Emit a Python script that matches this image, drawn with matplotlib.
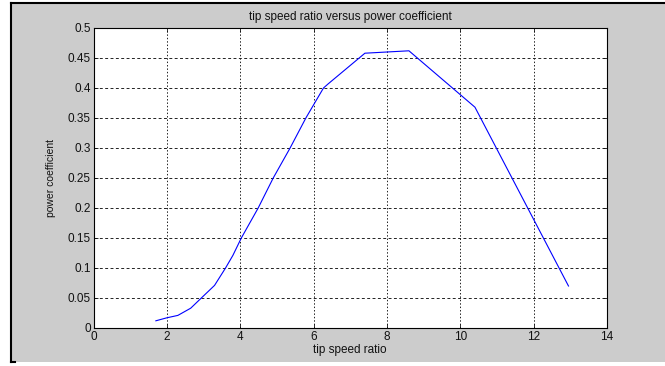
import matplotlib
matplotlib.use("Agg")
import matplotlib.pyplot as plt
from matplotlib.patches import Rectangle
from matplotlib.lines import Line2D

# curve
tsr = [1.7, 2.0, 2.3, 2.65, 2.94, 3.3, 3.6, 3.8, 4.03, 4.49, 4.9, 5.36, 5.79, 6.27, 6.4, 7.4, 8.6, 10.4, 12.95]
cp = [0.012, 0.017, 0.021, 0.033, 0.05, 0.071, 0.1, 0.121, 0.15, 0.2, 0.25, 0.3, 0.35, 0.4, 0.407, 0.458, 0.462, 0.368, 0.07]

xticks = [0, 2, 4, 6, 8, 10, 12, 14]
yticks = [0, 0.05, 0.1, 0.15, 0.2, 0.25, 0.3, 0.35, 0.4, 0.45, 0.5]
ytick_labels = ["0", "0.05", "0.1", "0.15", "0.2", "0.25", "0.3", "0.35", "0.4", "0.45", "0.5"]

plt.rcParams['font.family'] = ['Liberation Sans', 'DejaVu Sans']

fig = plt.figure(figsize=(6.65, 3.66), dpi=100, facecolor="white")

# grey matlab-style figure window with black frame on left/top
W, H = 665.0, 366.0
fig.patches.append(Rectangle((11 / W, 1 - 362 / H), 1 - 11 / W, (362 - 3) / H,
                             transform=fig.transFigure, facecolor="#cccccc",
                             edgecolor="none", zorder=-10))
fig.lines.append(Line2D([11 / W, 11 / W], [1 - 3 / H, 1 - 362 / H],
                        transform=fig.transFigure, color="black", lw=1.5))
fig.lines.append(Line2D([11 / W, 1.0], [1 - 3 / H, 1 - 3 / H],
                        transform=fig.transFigure, color="black", lw=1.5))
fig.lines.append(Line2D([11 / W, 15 / W], [1 - 362 / H, 1 - 362 / H],
                        transform=fig.transFigure, color="black", lw=1.5))

ax = fig.add_axes([93.5 / W, 1 - 328 / H, (607 - 93.5) / W, (328 - 28) / H])
ax.set_facecolor("white")

ax.plot(tsr, cp, color="blue", lw=0.8)

ax.set_xlim(0, 14)
ax.set_ylim(0, 0.5)
ax.set_xticks(xticks)
ax.set_yticks(yticks)
ax.set_yticklabels(ytick_labels)

# matlab grid: dotted verticals, dashed horizontals
for xv in xticks[1:-1]:
    ax.axvline(xv, color="#222222", lw=0.7, dashes=(1.5, 2.0), zorder=0.5)
for yv in yticks[1:-1]:
    ax.axhline(yv, color="#222222", lw=0.7, dashes=(3.0, 2.5), zorder=0.5)

ax.tick_params(direction="in", length=3, width=0.6, top=True, right=True,
               labelsize=8.5, pad=2, colors="#111111")
for s in ax.spines.values():
    s.set_linewidth(0.8)

ax.set_title("tip speed ratio versus power coefficient", fontsize=8.5, pad=6, color="#111111")
ax.set_xlabel("tip speed ratio", fontsize=8.5, labelpad=1, color="#111111")
ax.set_ylabel("power coefficient", fontsize=7.5, labelpad=8, color="#111111")

fig.savefig("out.png", dpi=100, facecolor=fig.get_facecolor())
